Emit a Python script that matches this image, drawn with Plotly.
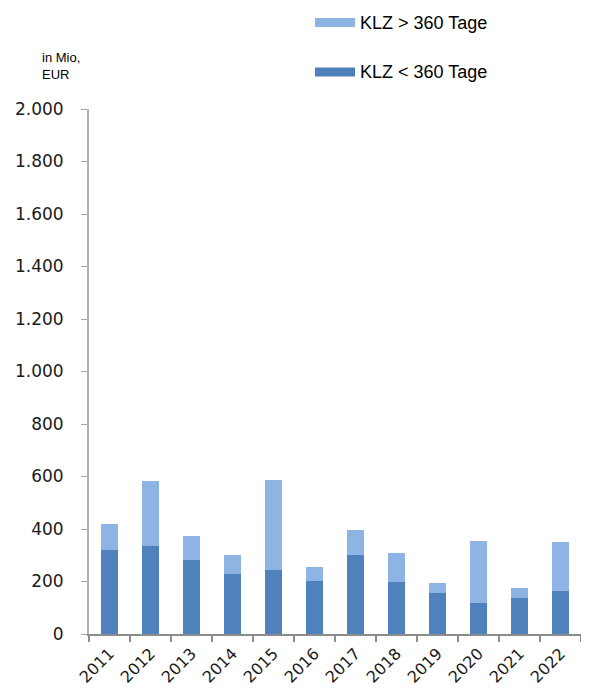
import plotly.graph_objects as go

years = ["2011", "2012", "2013", "2014", "2015", "2016", "2017", "2018", "2019", "2020", "2021", "2022"]
klz_short = [321, 335, 282, 230, 243, 203, 302, 197, 157, 118, 138, 164]
klz_total = [419, 584, 375, 301, 585, 257, 396, 307, 196, 354, 176, 349]
klz_long = [t - s for t, s in zip(klz_total, klz_short)]
y_ticks = [0, 200, 400, 600, 800, 1000, 1200, 1400, 1600, 1800, 2000]
y_tick_labels = ["0", "200", "400", "600", "800", "1.000", "1.200", "1.400", "1.600", "1.800", "2.000"]

C_LONG = "#8DB4E2"
C_SHORT = "#4F81BD"

fig = go.Figure()
fig.add_trace(go.Bar(x=years, y=klz_short, name="KLZ < 360 Tage", marker=dict(color=C_SHORT, line=dict(width=0)), showlegend=False))
fig.add_trace(go.Bar(x=years, y=klz_long, name="KLZ > 360 Tage", marker=dict(color=C_LONG, line=dict(width=0)), showlegend=False))

# page body has an 8px margin; figure is sized so it fills the window
OFF = 8
W, H = 589 - OFF, 690 - OFF
L, R, T, B = 89 - OFF, 8, 109 - OFF, 56
pw = W - L - R
ph = H - T - B

def px(x):  # page x -> paper
    return (x - OFF - L) / pw

def py(y):  # page y -> paper
    return (H - B - (y - OFF)) / ph

fig.update_layout(
    width=W, height=H,
    margin=dict(l=L, r=R, t=T, b=B),
    barmode="stack",
    bargap=0.59,
    plot_bgcolor="white",
    paper_bgcolor="white",
    font=dict(family="DejaVu Sans", size=17, color="#000000"),
)
fig.update_yaxes(
    range=[0, 2000], tickvals=y_ticks, ticktext=y_tick_labels,
    automargin=False,
    showgrid=False, zeroline=False, showline=True, linecolor="#B0B0B0", linewidth=2,
    ticks="outside", ticklen=6, tickcolor="#A6A6A6", tickwidth=1,
    ticklabelstandoff=14,
    tickfont=dict(family="DejaVu Sans", size=17, color="#1a1a1a"),
)
fig.update_xaxes(
    type="category", tickangle=-45, tickson="boundaries",
    automargin=False,
    showgrid=False, showline=True, linecolor="#8C8C8C", linewidth=2,
    ticks="outside", ticklen=6, tickcolor="#8C8C8C", tickwidth=2,
    ticklabelstandoff=2,
    tickfont=dict(family="DejaVu Sans", size=16, color="#1a1a1a"),
)

# legend drawn manually
legend_items = [("KLZ > 360 Tage", C_LONG, 22.5), ("KLZ < 360 Tage", C_SHORT, 72)]
for label, col, yc in legend_items:
    fig.add_shape(type="rect", xref="paper", yref="paper",
                  x0=px(315), x1=px(355), y0=py(yc + 4.5), y1=py(yc - 4.5),
                  fillcolor=col, line=dict(width=0))
    fig.add_annotation(text=label, xref="paper", yref="paper", x=px(358), y=py(yc),
                       xanchor="left", yanchor="middle", showarrow=False,
                       font=dict(family="Liberation Sans", size=18, color="#000000"))

fig.add_annotation(text="in Mio,<br>EUR", xref="paper", yref="paper", x=px(40), y=py(66),
                   xanchor="left", yanchor="middle", align="left", showarrow=False,
                   font=dict(family="Liberation Sans", size=13, color="#000000"))

fig.write_html("out.html")
